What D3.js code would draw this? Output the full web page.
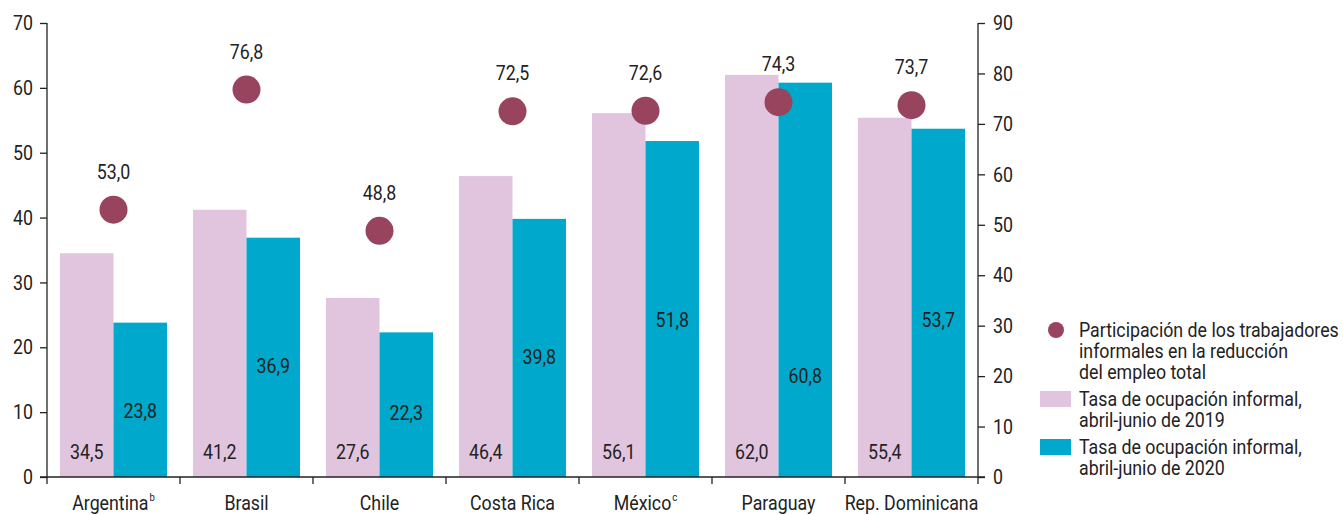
<!DOCTYPE html>
<html><head><meta charset="utf-8">
<script src="https://cdn.jsdelivr.net/npm/d3@7"></script>
<style>
body{margin:0;background:#fff;}
text{font-family:"Roboto",sans-serif;fill:#222;}
</style></head>
<body><svg id="c" width="1343" height="515"></svg>
<script>
const categories = ["Argentina","Brasil","Chile","Costa Rica","México","Paraguay","Rep. Dominicana"];
const superscripts = ["b","","","","c","",""];
const rate2019 = [34.5,41.2,27.6,46.4,56.1,62.0,55.4];
const rate2020 = [23.8,36.9,22.3,39.8,51.8,60.8,53.7];
const share = [53.0,76.8,48.8,72.5,72.6,74.3,73.7];
const label2020At = [10.2,17.1,9.9,18.5,24.2,15.6,24.2];
const leftTicks = [0,10,20,30,40,50,60,70];
const rightTicks = [0,10,20,30,40,50,60,70,80,90];
const legendItems = [
  {type:"dot", lines:["Participación de los trabajadores","informales en la reducción","del empleo total"]},
  {type:"pink", lines:["Tasa de ocupación informal,","abril-junio de 2019"]},
  {type:"teal", lines:["Tasa de ocupación informal,","abril-junio de 2020"]}
];
const C = {pink:"#e1c5df", teal:"#00a8cb", dot:"#98445f", axis:"#222"};
const fmt = v => v.toFixed(1).replace(".", ",");

const svg = d3.select("#c");
const L = 47, R = 978, T = 23, B = 477;
const x = d3.scaleBand().domain(categories).range([L, R]).paddingInner(0).paddingOuter(0);
const yL = d3.scaleLinear().domain([0,70]).range([B, T]);
const yR = d3.scaleLinear().domain([0,90]).range([B, T]);
const pad = 13, bw = (x.bandwidth() - 2*pad)/2;
const fs = 20.5;

// condensed-text helper: measure Roboto width, then compress horizontally
const probeT = svg.append("text").attr("font-size",fs).text("Participación de los trabajadores");
const K = 260 / probeT.node().getComputedTextLength();
probeT.remove();
function label(parent, px, py, str, anchor, size){
  const gg = parent.append("g").attr("transform",`translate(${px},${py}) scale(${K},1)`);
  const t = gg.append("text").attr("dy","0.35em").attr("text-anchor",anchor||"start").attr("font-size",size||fs).text(str);
  return {g:gg, t:t, w:t.node().getComputedTextLength()*K};
}

// bars
const g = svg.append("g");
categories.forEach((c,i)=>{
  const x0 = x(c) + pad;
  g.append("rect").attr("x", x0).attr("y", yL(rate2019[i])).attr("width", bw).attr("height", B - yL(rate2019[i])).attr("fill", C.pink);
  g.append("rect").attr("x", x0+bw).attr("y", yL(rate2020[i])).attr("width", bw).attr("height", B - yL(rate2020[i])).attr("fill", C.teal);
});
categories.forEach((c,i)=>{
  const x0 = x(c) + pad;
  label(g, x0+bw/2, 452, fmt(rate2019[i]), "middle");
  label(g, x0+bw*1.5, yL(label2020At[i]), fmt(rate2020[i]), "middle");
  const cx = x(c) + x.bandwidth()/2;
  g.append("circle").attr("cx", cx).attr("cy", yR(share[i])).attr("r", 14).attr("fill", C.dot);
  label(g, cx, yR(share[i]) - 38, fmt(share[i]), "middle");
});

// axes
const la = svg.append("g").attr("transform",`translate(${L},0)`)
  .call(d3.axisLeft(yL).tickValues(leftTicks).tickSize(7).tickFormat(""));
const ra = svg.append("g").attr("transform",`translate(${R},0)`)
  .call(d3.axisRight(yR).tickValues(rightTicks).tickSize(7).tickFormat(""));
[la,ra].forEach(a=>{
  a.select(".domain").attr("d", `M0,${T}V${B}`).attr("stroke",C.axis).attr("stroke-width",1.3);
  a.selectAll(".tick line").attr("stroke",C.axis).attr("stroke-width",1.3);
  a.selectAll(".tick text").remove();
});
leftTicks.forEach(v=>label(svg, L-14, yL(v), String(v), "end"));
rightTicks.forEach(v=>label(svg, R+15, yR(v), String(v), "start"));

// x axis
svg.append("line").attr("x1",L-7).attr("x2",R+7).attr("y1",B).attr("y2",B).attr("stroke",C.axis).attr("stroke-width",1.3);
const bounds = categories.map(c=>x(c)).concat([R]);
bounds.forEach(b=>svg.append("line").attr("x1",b).attr("x2",b).attr("y1",B).attr("y2",B+7).attr("stroke",C.axis).attr("stroke-width",1.3));
categories.forEach((c,i)=>{
  const cx = x(c)+x.bandwidth()/2;
  const main = label(svg, cx, 503, c, "middle");
  if (superscripts[i]) {
    const sup = label(svg, 0, 0, superscripts[i], "start", 11);
    const total = main.w + sup.w + 1;
    main.g.attr("transform",`translate(${cx - total/2 + main.w/2},503) scale(${K},1)`);
    sup.g.attr("transform",`translate(${cx - total/2 + main.w + 1},497) scale(${K},1)`);
  }
});

// legend (one text element per item, lines as tspans)
const lg = svg.append("g");
let ly = 330;
legendItems.forEach((it)=>{
  if (it.type==="dot") lg.append("circle").attr("cx",1056).attr("cy",ly).attr("r",8).attr("fill",C.dot);
  else lg.append("rect").attr("x",1040).attr("y",ly-8).attr("width",31).attr("height",16).attr("fill", it.type==="pink"?C.pink:C.teal);
  const gg = lg.append("g").attr("transform",`translate(1079,${ly}) scale(${K},1)`);
  const t = gg.append("text").attr("font-size",fs).attr("y",0).attr("dy","0.35em");
  it.lines.forEach((ln,j)=>t.append("tspan").attr("x",0).attr("dy", j===0 ? "0.35em" : 21).text(ln));
  t.attr("dy",null);
  ly += it.lines.length*21 + 6;
});
</script></body></html>
